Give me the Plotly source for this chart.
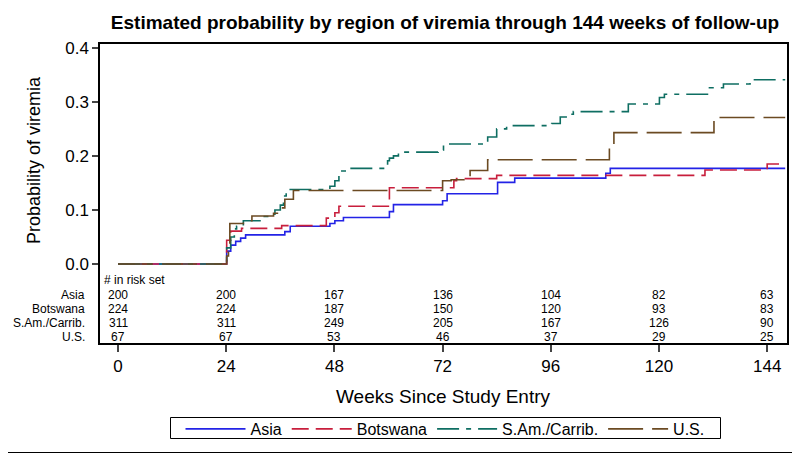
import plotly.graph_objects as go

# ---- data ----
asia_weeks = [0, 24.1, 25.0, 26.1, 27.2, 28.3, 37.0, 38.2, 47.0, 48.1, 50.0, 60.2, 61.1,
              72.0, 73.0, 84.2, 88.0, 108.2, 109.2, 148]
asia_prob = [0, 0.024, 0.035, 0.042, 0.048, 0.054, 0.060, 0.070, 0.075, 0.080, 0.086, 0.097, 0.110,
             0.117, 0.130, 0.151, 0.159, 0.168, 0.177, 0.177]

bots_weeks = [0, 24.1, 25.0, 27.4, 36.3, 46.2, 48.1, 49.0, 60.2, 74.5, 75.1, 84.0, 130.2, 144.0, 148]
bots_prob = [0, 0.044, 0.061, 0.066, 0.071, 0.085, 0.095, 0.107, 0.141, 0.154, 0.158, 0.164, 0.174,
             0.185, 0.185]

sam_weeks = [0, 24.1, 25.0, 25.8, 26.3, 27.8, 31.9, 34.0, 34.8, 36.0, 36.7, 37.3, 38.2, 47.0, 48.1,
             49.0, 51.1, 59.8, 60.2, 61.1, 62.2, 71.0, 72.2, 82.0, 84.0, 86.2, 96.2, 98.1, 100.3,
             101.0, 113.2, 120.1, 121.2, 131.2, 134.3, 140.2, 148]
sam_prob = [0, 0.030, 0.050, 0.065, 0.070, 0.080, 0.088, 0.092, 0.100, 0.109, 0.126, 0.134, 0.138,
            0.144, 0.154, 0.172, 0.177, 0.191, 0.196, 0.200, 0.207, 0.211, 0.222, 0.235, 0.250,
            0.256, 0.260, 0.272, 0.277, 0.282, 0.296, 0.308, 0.314, 0.326, 0.333, 0.341, 0.341]

us_weeks = [0, 24.1, 24.5, 24.8, 27.8, 29.7, 34.5, 35.8, 37.0, 38.9, 72.0, 73.9, 78.1, 82.0,
            109.0, 110.0, 132.2, 148]
us_prob = [0, 0.015, 0.030, 0.075, 0.080, 0.089, 0.094, 0.104, 0.120, 0.136, 0.154, 0.156, 0.173,
           0.193, 0.219, 0.243, 0.271, 0.271]

regions = ["Asia", "Botswana", "S.Am./Carrib.", "U.S."]
risk_weeks = [0, 24, 48, 72, 96, 120, 144]
risk_asia = [200, 200, 167, 136, 104, 82, 63]
risk_bots = [224, 224, 187, 150, 120, 93, 83]
risk_sam = [311, 311, 249, 205, 167, 126, 90]
risk_us = [67, 67, 53, 46, 37, 29, 25]

x_ticks = [0, 24, 48, 72, 96, 120, 144]
y_ticks = [0.0, 0.1, 0.2, 0.3, 0.4]
y_ticklabels = ["0.0", "0.1", "0.2", "0.3", "0.4"]

# ---- styles ----
colors = ["#2323E6", "#C81E3C", "#0E6E62", "#6B4A22"]
dashes = ["solid", "17px,7px", "22px,7px,5px,7px", "35px,9px"]
FONT = "Liberation Sans, Arial, sans-serif"

# page body has an 8px default margin; figure is sized/positioned to compensate
W, H = 792, 445
ML, MT, MR, MB = 92, 36, 13, 110
PW, PH = W - ML - MR, H - MT - MB   # 687 x 299


def px_to_paper_x(X):
    return (X - 8 - ML) / PW


def px_to_paper_y(Y):
    return (MT + PH - (Y - 8)) / PH


fig = go.Figure()
series = [(asia_weeks, asia_prob), (bots_weeks, bots_prob), (sam_weeks, sam_prob), (us_weeks, us_prob)]
for (wx, py), name, c, d in zip(series, regions, colors, dashes):
    fig.add_trace(go.Scatter(x=wx, y=py, mode="lines", name=name, line_shape="hv",
                             line=dict(color=c, width=1.6, dash=d)))

# risk table
row_y = [-0.0574, -0.0833, -0.109, -0.135]
risk_rows = [risk_asia, risk_bots, risk_sam, risk_us]
tfont = dict(size=12, color="black", family=FONT)
ann = []
ann.append(dict(x=-3.6, y=-0.0296, xref="x", yref="y", text="# in risk set", showarrow=False,
                xanchor="left", yanchor="middle", font=tfont))
for name, yy, vals in zip(regions, row_y, risk_rows):
    ann.append(dict(x=px_to_paper_x(87), y=yy, xref="paper", yref="y", text=name, showarrow=False,
                    xanchor="right", yanchor="middle", font=tfont))
    for wk, v in zip(risk_weeks, vals):
        ann.append(dict(x=wk, y=yy, xref="x", yref="y", text=str(v), showarrow=False,
                        xanchor="center", yanchor="middle", font=tfont))

# axis titles
ann.append(dict(x=px_to_paper_x(34), y=px_to_paper_y(160), xref="paper", yref="paper",
                text="Probability of viremia", textangle=-90, showarrow=False,
                xanchor="center", yanchor="middle", font=dict(size=18, color="black", family=FONT)))
ann.append(dict(x=px_to_paper_x(443), y=px_to_paper_y(397), xref="paper", yref="paper",
                text="Weeks Since Study Entry", showarrow=False,
                xanchor="center", yanchor="middle", font=dict(size=19, color="black", family=FONT)))

fig.update_layout(
    width=W, height=H,
    margin=dict(l=ML, r=MR, t=MT, b=MB, autoexpand=False),
    paper_bgcolor="white", plot_bgcolor="white",
    font=dict(family=FONT, color="black"),
    title=dict(text="<b>Estimated probability by region of viremia through 144 weeks of follow-up</b>",
               x=px_to_paper_x(445), xref="paper", xanchor="center",
               y=1 - (22 - 8) / H, yref="container", yanchor="middle",
               font=dict(size=19, color="black", family=FONT)),
    showlegend=True,
    legend=dict(orientation="h", x=px_to_paper_x(445), xanchor="center", y=px_to_paper_y(412),
                yanchor="top", borderwidth=0, bgcolor="rgba(0,0,0,0)", itemwidth=60,
                font=dict(size=16, color="black", family=FONT), tracegroupgap=0),
    annotations=ann,
    shapes=[
        dict(type="rect", xref="paper", yref="paper", x0=px_to_paper_x(170.5), x1=px_to_paper_x(720.5),
             y0=px_to_paper_y(438.5), y1=px_to_paper_y(417.5), line=dict(color="black", width=1)),
        dict(type="line", xref="paper", yref="paper", x0=px_to_paper_x(0), x1=px_to_paper_x(799.5),
             y0=px_to_paper_y(452.5), y1=px_to_paper_y(452.5), line=dict(color="black", width=1)),
    ],
)
fig.update_xaxes(range=[-4.0, 148.4], tickvals=x_ticks, ticks="outside", ticklen=7, tickwidth=1.5,
                 showline=True, linecolor="black", linewidth=1.5, mirror=True, showgrid=False,
                 zeroline=False, automargin=False, tickfont=dict(size=17, color="black", family=FONT))
fig.update_yaxes(range=[-0.146, 0.407], tickvals=y_ticks, ticktext=y_ticklabels, ticks="outside",
                 ticklen=6, tickwidth=1.5, showline=True, linecolor="black", linewidth=1.5, mirror=True,
                 showgrid=False, zeroline=False, automargin=False,
                 tickfont=dict(size=17, color="black", family=FONT))

fig.write_html("out.html")
